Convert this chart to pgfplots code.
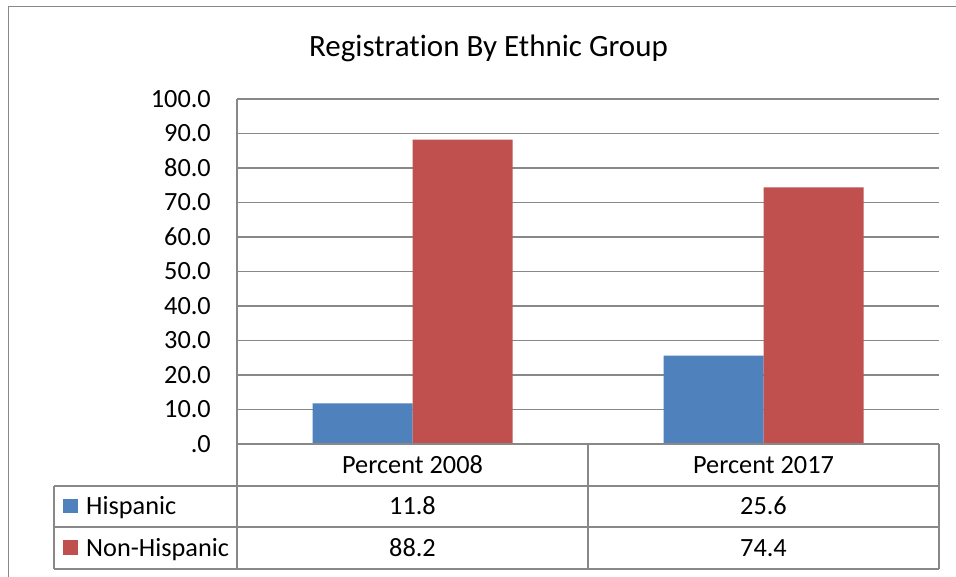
\documentclass[border=0pt]{standalone}
\usepackage{pgfplots}
\pgfplotsset{compat=1.18}
\usepackage{fontspec}
\setmainfont{Carlito}[Ligatures=NoCommon]
\definecolor{hisp}{HTML}{4F81BD}
\definecolor{nonhisp}{HTML}{C0504D}
\definecolor{lgray}{HTML}{888888}
\newcommand{\lbl}{\fontsize{26.3}{26.3}\selectfont}
\begin{document}
\begin{tikzpicture}[x=1pt,y=1pt]
\useasboundingbox (0,0) rectangle (956,577);
\clip (0,0) rectangle (956,577);
\fill[white] (0,0) rectangle (956,577);
\begin{axis}[
  at={(237pt,133pt)}, anchor=south west,
  scale only axis, width=702pt, height=345pt,
  xmin=-0.5, xmax=1.5, ymin=0, ymax=100,
  ybar=0pt, bar width=100pt,
  axis line style={draw=none},
  xtick=\empty,
  ytick={0,10,...,100},
  yticklabels={.0,10.0,20.0,30.0,40.0,50.0,60.0,70.0,80.0,90.0,100.0},
  major tick length=0pt,
  yticklabel style={font=\lbl, anchor=base east, inner sep=0pt, xshift=-26pt, yshift=-8.3pt},
  ymajorgrids, grid style={lgray, line width=1.3pt},
  clip=false,
]
\addplot[fill=hisp, draw=none] coordinates {(0,11.8) (1,25.6)};
\addplot[fill=nonhisp, draw=none] coordinates {(0,88.2) (1,74.4)};
\end{axis}
\begin{scope}[lgray, line width=1.3pt]
\draw (8.5,-20) -- (8.5,570.5) -- (990,570.5);
\draw (237,478) -- (237,8);
\draw (237,133) -- (939,133);
\draw (54,91) -- (939,91);
\draw (54,50) -- (939,50);
\draw (54,8) -- (939,8);
\draw (54,91) -- (54,8);
\draw (588,133) -- (588,8);
\draw (939,133) -- (939,8);
\end{scope}
\node[anchor=base, inner sep=0pt, font=\fontsize{31}{31}\selectfont] at (488.5,520.3) {Registration By Ethnic Group};
\node[anchor=base, inner sep=0pt, font=\lbl] at (412.5,103.7) {Percent 2008};
\node[anchor=base, inner sep=0pt, font=\lbl] at (763.5,103.7) {Percent 2017};
\node[anchor=base, inner sep=0pt, font=\lbl] at (412.5,62) {11.8};
\node[anchor=base, inner sep=0pt, font=\lbl] at (763.5,62) {25.6};
\node[anchor=base, inner sep=0pt, font=\lbl] at (412.5,20.3) {88.2};
\node[anchor=base, inner sep=0pt, font=\lbl] at (763.5,20.3) {74.4};
\fill[hisp] (63,64) rectangle (78,78);
\fill[nonhisp] (63,22) rectangle (78,37);
\node[anchor=base west, inner sep=0pt, font=\lbl] at (86,62) {Hispanic};
\node[anchor=base west, inner sep=0pt, font=\lbl] at (86,20.3) {Non-Hispanic};
\end{tikzpicture}
\end{document}
